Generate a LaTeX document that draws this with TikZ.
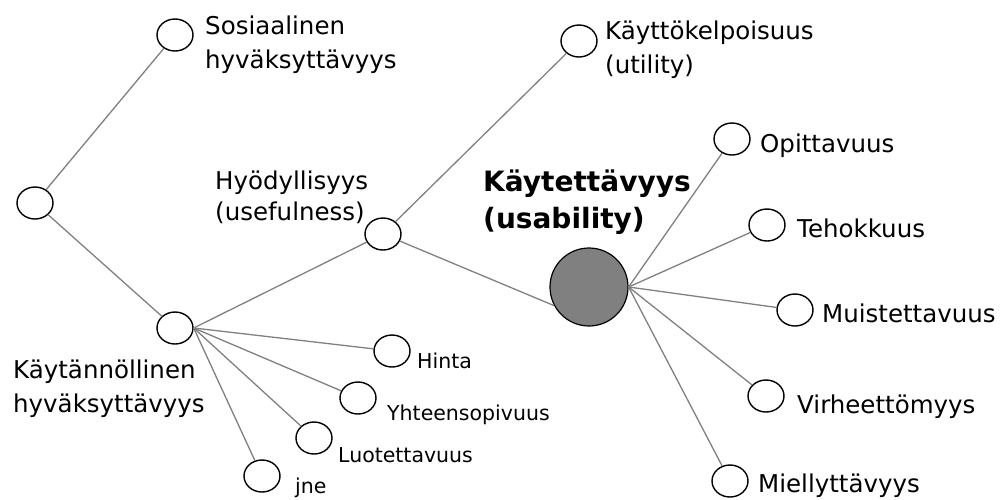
\documentclass[tikz,border=0pt]{standalone}
\usepackage{fontspec}
\setmainfont{DejaVu Sans}
\usetikzlibrary{positioning,shapes.geometric}
\definecolor{LinkGray}{RGB}{128,128,128}
\definecolor{HubGray}{RGB}{128,128,128}

\begin{document}
\begin{tikzpicture}[x=1pt,y=-1pt,
    dot/.style={draw,line width=1.4pt,ellipse,minimum width=36pt,minimum height=32pt,inner sep=0pt},
    hub/.style={draw,line width=1.2pt,circle,fill=HubGray,minimum size=78pt,inner sep=0pt},
    lab/.style={anchor=base west,inner sep=0pt,align=left,font=\fontsize{24.5}{34}\selectfont},
    small/.style={anchor=base west,inner sep=0pt,font=\fontsize{20.5}{24}\selectfont},
    link/.style={draw=LinkGray,line width=1.3pt}]
  \useasboundingbox (0,0) rectangle (1004,499);
  % left tree
  \node[dot] (root) at (35,203) {};
  \node[dot] (sosiaal) at (175,35) {};
  \node[dot] (kaytann) at (175,328) {};
  \node[dot] (hyodyl) at (383,234) {};
  \node[dot] (kayttok) at (579,41) {};
  \node[hub] (usab) at (589,287) {};
  \foreach \n/\x/\y in {hinta/392/351,yhteen/358/398,luotet/314/438,jne/262/476}
    \node[dot] (\n) at (\x,\y) {};
  % usability attributes
  \foreach \n/\x/\y in {opitt/732/139,tehokk/767/225,muist/795/310,virh/766/396,miell/730/481}
    \node[dot] (\n) at (\x,\y) {};

  \draw[link] (root) -- (sosiaal);
  \draw[link] (root) -- (kaytann);
  \foreach \n in {hyodyl,hinta,yhteen,luotet,jne}
    \draw[link] (kaytann.east) -- (\n);
  \draw[link] (hyodyl) -- (kayttok);
  \draw[link] (hyodyl) -- (usab.208);
  \foreach \n in {opitt,tehokk,muist,virh,miell}
    \draw[link] (usab.east) -- (\n);

  % labels (base = last line)
  \node[lab] (tsos) at (205,68) {Sosiaalinen\\hyväksyttävyys};
  \node[lab,font=\fontsize{24.5}{31}\selectfont] (thyo) at (215,220) {Hyödyllisyys\\(usefulness)};
  \node[lab] (tkay) at (13,412) {Käytännöllinen\\hyväksyttävyys};
  \node[lab] (tkel) at (605,73) {Käyttökelpoisuus\\(utility)};
  \node[lab,font=\fontsize{28}{37}\selectfont\bfseries] (tusa) at (483,228) {Käytettävyys\\(usability)};
  \node[lab] (topi) at (760,152) {Opittavuus};
  \node[lab] (teho) at (797,237) {Tehokkuus};
  \node[lab] (tmui) at (822,322) {Muistettavuus};
  \node[lab] (tvir) at (797,413) {Virheettömyys};
  \node[lab] (tmie) at (758,492) {Miellyttävyys};
  \node[small] (thin) at (417,368) {Hinta};
  \node[small] (tyht) at (387,420) {Yhteensopivuus};
  \node[small] (tluo) at (338,462) {Luotettavuus};
  \node[small] (tjne) at (295,493) {jne};
\end{tikzpicture}
\end{document}
